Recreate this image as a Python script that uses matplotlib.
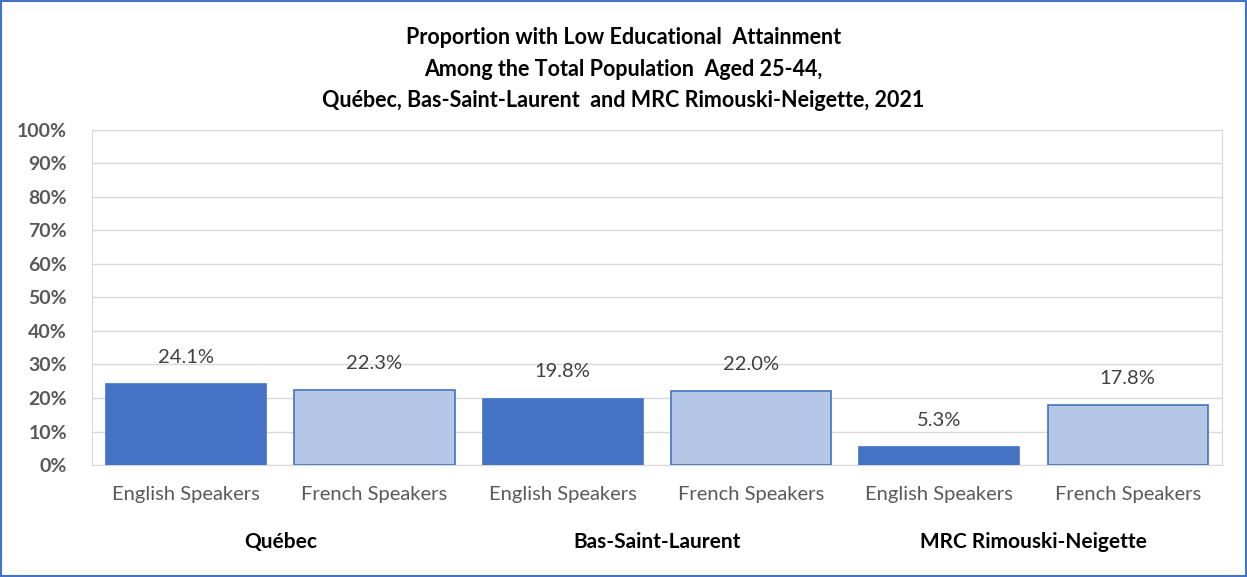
import matplotlib.pyplot as plt
from matplotlib.patches import Rectangle

regions = ["Québec", "Bas-Saint-Laurent", "MRC Rimouski-Neigette"]
categories = ["English Speakers", "French Speakers"] * 3
valeurs = [24.1, 22.3, 19.8, 22.0, 5.3, 17.8]
couleurs = ["#4472C4", "#B4C7E7"] * 3

plt.rcParams['font.family'] = ['Lato', 'DejaVu Sans']

fig = plt.figure(figsize=(12.47, 5.77), dpi=100)
ax = fig.add_axes([0.0738, 0.194, 0.906, 0.581])

x = list(range(len(valeurs)))
barres = ax.bar(x, valeurs, width=0.85, color=couleurs, edgecolor="#4472C4",
                linewidth=1.2, zorder=3)

for xi, v in zip(x, valeurs):
    ax.text(xi, v + 8, f"{v:.1f}%", ha="center", va="center",
            fontsize=14.5, color="#404040")

ax.set_xlim(-0.5, len(valeurs) - 0.5)
ax.set_ylim(0, 100)
ax.set_yticks(range(0, 101, 10))
ax.set_yticklabels([f"{t}%" for t in range(0, 101, 10)], fontsize=14,
                   fontweight="bold", color="#595959")
ax.set_xticks(x)
ax.set_xticklabels(categories, fontsize=14.5, color="#595959")
ax.tick_params(axis="both", length=0)
ax.tick_params(axis="x", pad=15)
ax.tick_params(axis="y", pad=18)
ax.grid(axis="y", color="#D9D9D9", linewidth=1, zorder=0)
for s in ax.spines.values():
    s.set_color("#D9D9D9")

# étiquettes de groupe
for i, r in enumerate(regions):
    ax.text(2 * i + 0.5, -0.23, r, transform=ax.get_xaxis_transform(),
            ha="center", va="center", fontsize=15, fontweight="bold",
            color="black")

fig.text(0.5, 0.88,
         "Proportion with Low Educational  Attainment\n"
         "Among the Total Population  Aged 25-44,\n"
         "Québec, Bas-Saint-Laurent  and MRC Rimouski-Neigette, 2021",
         ha="center", va="center", fontsize=15.5, fontweight="bold",
         linespacing=1.62)

fig.patches.append(Rectangle((0.001, 0.002), 0.998, 0.996, transform=fig.transFigure,
                             fill=False, edgecolor="#4472C4", linewidth=1.5))

fig.savefig("out.png", dpi=100)
